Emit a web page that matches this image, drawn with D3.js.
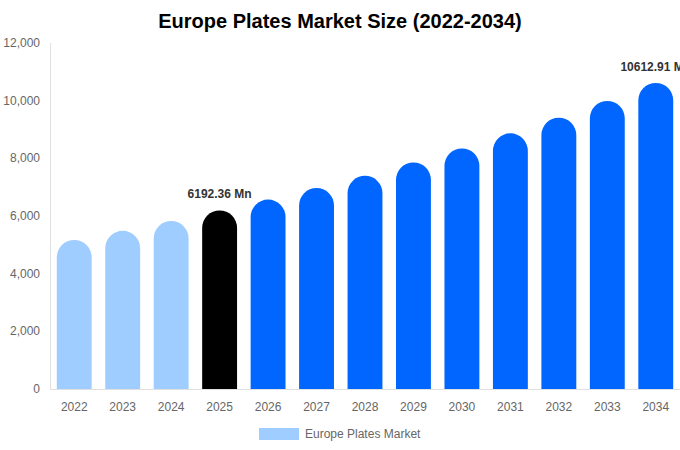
<!DOCTYPE html>
<html><head><meta charset="utf-8">
<script src="https://cdn.jsdelivr.net/npm/d3@7"></script>
<style>body{margin:0;background:#fff;}svg{font-family:"Liberation Sans",Arial,sans-serif;}</style>
</head><body><svg id="c" width="680" height="450"></svg>
<script>
const categories = ["2022","2023","2024","2025","2026","2027","2028","2029","2030","2031","2032","2033","2034"];
const values = [5170, 5485, 5825, 6192.36, 6570, 6970, 7395, 7855, 8345, 8865, 9410, 9990, 10612.91];
const yTicks = [0, 2000, 4000, 6000, 8000, 10000, 12000];
const labels = {"2025": "6192.36 Mn", "2034": "10612.91 Mn"};
const seriesName = "Europe Plates Market";
const title = "Europe Plates Market Size (2022-2034)";

const svg = d3.select("#c");
const m = {l: 50, r: 0, t: 43, b: 61};
const W = 680, H = 450;
const x = d3.scaleBand().domain(categories).range([m.l, W - m.r]).paddingInner(0.28).paddingOuter(0.14);
const y = d3.scaleLinear().domain([0, 12000]).range([H - m.b, m.t]);

function color(c){ const yr=+c; return yr<2025?"#a0cdff":(yr===2025?"#000000":"#0066ff"); }

svg.append("text").attr("x", 340).attr("y", 28).attr("text-anchor","middle")
  .attr("font-size", 20).attr("font-weight","bold").attr("fill","#000").text(title);

// axes lines
svg.append("line").attr("x1", m.l+0.5).attr("x2", m.l+0.5).attr("y1", m.t).attr("y2", y(0)).attr("stroke","#e0e0e0");
svg.append("line").attr("x1", m.l).attr("x2", W).attr("y1", y(0)+0.5).attr("y2", y(0)+0.5).attr("stroke","#e0e0e0");

svg.selectAll(".yt").data(yTicks).enter().append("text")
  .attr("x", 40).attr("y", d=>y(d)+4).attr("text-anchor","end").attr("font-size",12).attr("fill","#666")
  .text(d=>d3.format(",")(d));

svg.selectAll(".xt").data(categories).enter().append("text")
  .attr("x", d=>x(d)+x.bandwidth()/2).attr("y", y(0)+22).attr("text-anchor","middle").attr("font-size",12).attr("fill","#666")
  .text(d=>d);

const bw = x.bandwidth(), r = bw/2;
svg.selectAll(".bar").data(categories).enter().append("path")
  .attr("fill", d=>color(d))
  .attr("d", (d,i)=>{
    const x0 = x(d), x1 = x0+bw, top = y(values[i]), base = y(0);
    const p = d3.path();
    p.moveTo(x0, base);
    p.lineTo(x0, top + r);
    p.arc(x0 + r, top + r, r, Math.PI, 0);
    p.lineTo(x1, base);
    p.closePath();
    return p.toString();
  });

categories.forEach((c,i)=>{
  if(labels[c]){
    svg.append("text").attr("x", x(c)+bw/2).attr("y", y(values[i]) - 12).attr("text-anchor","middle")
      .attr("font-size",12).attr("font-weight","bold").attr("fill","#333").text(labels[c]);
  }
});

svg.append("rect").attr("x",259).attr("y",428).attr("width",40).attr("height",12).attr("fill","#a0cdff");
svg.append("text").attr("x",305).attr("y",438).attr("font-size",12).attr("fill","#666").text(seriesName);
</script></body></html>
